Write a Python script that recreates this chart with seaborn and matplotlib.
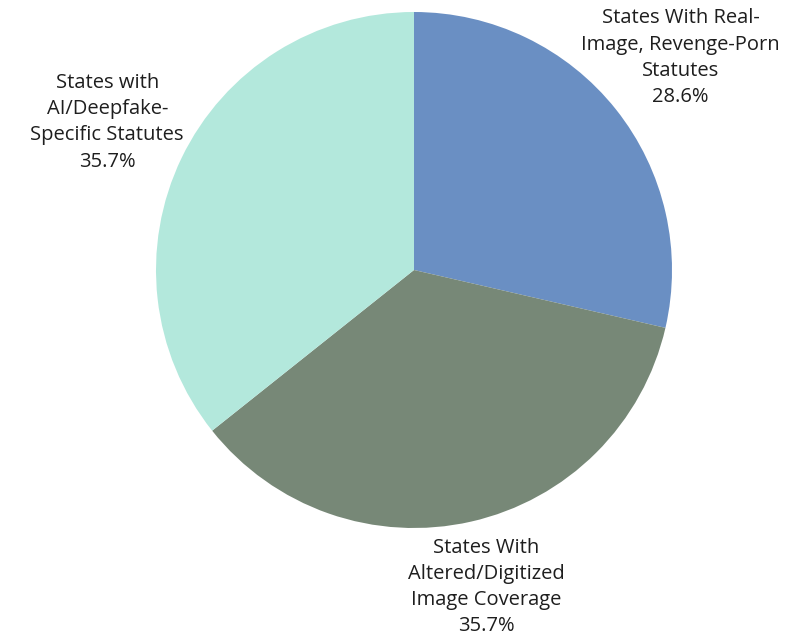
import numpy as np
import matplotlib
matplotlib.use("Agg")
import matplotlib.pyplot as plt
import seaborn as sns

categories = [
    "States With Real-\nImage, Revenge-Porn\nStatutes",
    "States With\nAltered/Digitized\nImage Coverage",
    "States with\nAI/Deepfake-\nSpecific Statutes",
]
values = [28.6, 35.7, 35.7]
colors = ["#6a8fc3", "#778877", "#b3e8dc"]
label_dist = [1.32, 1.26, 1.32]

sns.set_theme(style="white")
plt.rcParams["font.family"] = ["Open Sans", "DejaVu Sans"]

fig = plt.figure(figsize=(7.86, 6.4), dpi=100)
ax = fig.add_axes([0, 0, 1, 1])
wedges, _ = ax.pie(values, colors=colors, startangle=90, counterclock=False,
                   radius=1, wedgeprops=dict(linewidth=0))

total = sum(values)
for w, lab, v, d in zip(wedges, categories, values, label_dist):
    ang = np.deg2rad((w.theta1 + w.theta2) / 2)
    ax.text(d * np.cos(ang), d * np.sin(ang), f"{lab}\n{v / total * 100:.1f}%",
            ha="center", va="center", fontsize=14.5, color="#1e1e1e", linespacing=1.42)

ax.set_xlim(-414 / 258, 372 / 258)
ax.set_ylim(-370 / 258, 270 / 258)
ax.set_aspect("equal")
ax.axis("off")
fig.savefig("out.png", dpi=100, facecolor="white")
